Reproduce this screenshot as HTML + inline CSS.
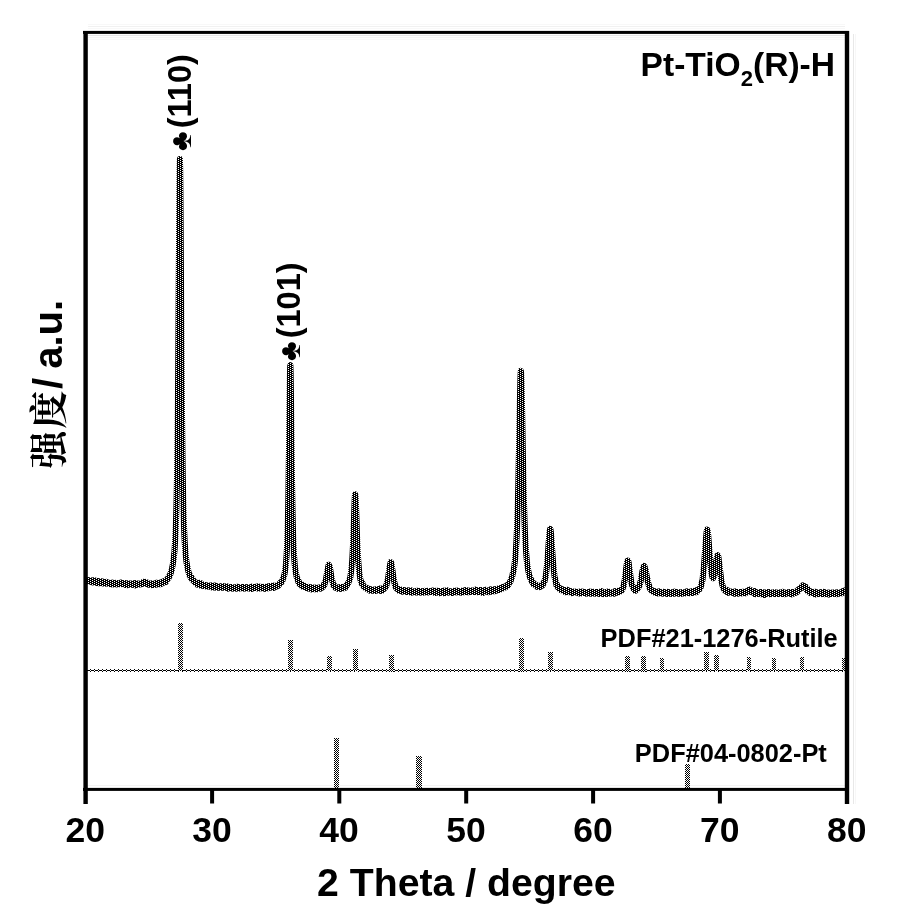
<!DOCTYPE html>
<html lang="zh">
<head>
<meta charset="utf-8">
<title>Pt-TiO2(R)-H XRD</title>
<style>
html,body{margin:0;padding:0;background:#fff;}
body{width:901px;height:913px;overflow:hidden;position:relative;}
svg{position:absolute;left:0;top:0;display:block;}
text{font-family:"Liberation Sans","Noto Sans CJK SC",sans-serif;font-weight:bold;fill:#000;}
.sym{font-family:"Liberation Sans","DejaVu Sans",sans-serif;font-weight:normal;}
.cjk{font-family:"Noto Serif CJK SC","Liberation Serif",serif;font-weight:700;}
</style>
</head>
<body>
<svg width="901" height="913" viewBox="0 0 901 913">
<defs>
<pattern id="d75" width="4" height="2" patternUnits="userSpaceOnUse"><rect width="4" height="2" fill="#000"/><rect x="0" y="0" width="1" height="1" fill="#fff"/><rect x="2" y="1" width="1" height="1" fill="#fff"/></pattern>
<pattern id="d50" width="2" height="2" patternUnits="userSpaceOnUse"><rect width="2" height="2" fill="#fff"/><rect x="0" y="0" width="1" height="1" fill="#000"/><rect x="1" y="1" width="1" height="1" fill="#000"/></pattern>
<pattern id="dia" width="4" height="3" patternUnits="userSpaceOnUse" x="0" y="669"><rect width="4" height="3" fill="#fff"/><rect x="2" y="0" width="1" height="1" fill="#000"/><rect x="0" y="1" width="2" height="1" fill="#000"/><rect x="3" y="1" width="1" height="1" fill="#000"/><rect x="2" y="2" width="1" height="1" fill="#000"/></pattern>
</defs>
<rect width="901" height="913" fill="#fff"/>

<g shape-rendering="crispEdges">
<rect x="88" y="24" width="757" height="1" fill="#f8f8f8"/>
<rect x="88" y="26" width="757" height="1" fill="#f1f1f1"/>
<rect x="88" y="28" width="757" height="1" fill="#f8f8f8"/>
<rect x="88" y="35" width="757" height="1" fill="#e6e6e6"/>
<rect x="88" y="37" width="757" height="1" fill="#f6f6f6"/>
<rect x="88" y="39" width="757" height="1" fill="#fafafa"/>
<rect x="88" y="785" width="757" height="1" fill="#f3f3f3"/>
<rect x="853" y="34" width="1" height="770" fill="#e8e8e8"/>
<rect x="855" y="34" width="1" height="770" fill="#f7f7f7"/>
<rect x="87.0" y="669.0" width="758.0" height="3" fill="url(#dia)"/>
<rect x="178.0" y="623.0" width="5.0" height="48.0" fill="url(#d50)"/>
<rect x="288.0" y="640.0" width="5.0" height="31.0" fill="url(#d50)"/>
<rect x="327.0" y="656.0" width="5.0" height="15.0" fill="url(#d50)"/>
<rect x="353.0" y="649.0" width="5.0" height="22.0" fill="url(#d50)"/>
<rect x="389.0" y="655.0" width="5.0" height="17.0" fill="url(#d50)"/>
<rect x="519.0" y="638.0" width="5.0" height="34.0" fill="url(#d50)"/>
<rect x="548.0" y="652.0" width="5.0" height="19.0" fill="url(#d50)"/>
<rect x="625.0" y="656.0" width="5.0" height="16.0" fill="url(#d50)"/>
<rect x="641.0" y="656.0" width="5.0" height="16.0" fill="url(#d50)"/>
<rect x="660.0" y="658.0" width="4.0" height="14.0" fill="url(#d50)"/>
<rect x="704.0" y="652.0" width="5.0" height="19.0" fill="url(#d50)"/>
<rect x="714.0" y="655.0" width="5.0" height="16.0" fill="url(#d50)"/>
<rect x="747.0" y="657.0" width="4.0" height="14.0" fill="url(#d50)"/>
<rect x="772.0" y="658.0" width="4.0" height="13.0" fill="url(#d50)"/>
<rect x="800.0" y="657.0" width="4.0" height="14.0" fill="url(#d50)"/>
<rect x="842.0" y="658.0" width="4.0" height="13.0" fill="url(#d50)"/>
<rect x="334.0" y="738.0" width="5.0" height="52.0" fill="url(#d50)"/>
<rect x="416.0" y="756.0" width="6.0" height="33.0" fill="url(#d50)"/>
<rect x="685.0" y="764.0" width="5.0" height="25.0" fill="url(#d50)"/>
</g>
<polyline points="86.90,581.77 87.15,580.60 87.40,580.90 87.65,581.14 87.90,580.50 88.15,580.97 88.40,580.99 88.65,580.04 88.90,581.61 89.15,581.40 89.40,580.75 89.65,581.03 89.90,581.43 90.15,581.03 90.40,581.06 90.65,580.42 90.90,581.56 91.15,581.35 91.40,581.46 91.65,580.48 91.90,582.27 92.15,581.47 92.40,581.19 92.65,582.56 92.90,581.44 93.15,580.68 93.40,581.29 93.65,580.27 93.90,582.15 94.15,581.36 94.40,581.20 94.65,582.24 94.90,580.75 95.15,581.99 95.40,580.57 95.65,581.38 95.90,581.10 96.15,582.61 96.40,582.81 96.65,581.67 96.90,582.34 97.15,581.80 97.40,582.24 97.65,581.53 97.90,581.03 98.15,581.00 98.40,582.24 98.65,583.30 98.90,582.23 99.15,581.82 99.40,583.20 99.65,582.29 99.90,582.24 100.15,582.35 100.40,582.16 100.65,582.09 100.90,581.49 101.15,582.59 101.40,582.29 101.65,583.03 101.90,582.19 102.15,581.36 102.40,582.39 102.65,583.41 102.90,582.28 103.15,582.02 103.40,581.88 103.65,581.99 103.90,582.43 104.15,581.97 104.40,583.48 104.65,582.51 104.90,582.76 105.15,583.52 105.40,583.58 105.65,582.66 105.90,582.98 106.15,583.23 106.40,582.74 106.65,581.89 106.90,583.26 107.15,583.42 107.40,583.18 107.65,582.46 107.90,582.89 108.15,582.70 108.40,582.89 108.65,583.80 108.90,583.95 109.15,583.50 109.40,583.46 109.65,583.55 109.90,583.20 110.15,583.18 110.40,582.86 110.65,583.22 110.90,584.51 111.15,583.76 111.40,583.10 111.65,583.04 111.90,582.83 112.15,583.53 112.40,583.55 112.65,582.55 112.90,583.63 113.15,583.06 113.40,584.18 113.65,583.49 113.90,584.37 114.15,583.17 114.40,583.28 114.65,583.62 114.90,584.05 115.15,583.79 115.40,582.81 115.65,583.60 115.90,583.53 116.15,583.29 116.40,583.18 116.65,584.52 116.90,583.35 117.15,583.11 117.40,583.94 117.65,583.67 117.90,583.57 118.15,584.06 118.40,583.91 118.65,583.85 118.90,584.20 119.15,583.83 119.40,583.35 119.65,583.50 119.90,583.42 120.15,583.84 120.40,583.14 120.65,582.73 120.90,583.81 121.15,583.03 121.40,582.70 121.65,584.00 121.90,583.41 122.15,584.09 122.40,583.53 122.65,583.22 122.90,583.16 123.15,583.58 123.40,583.72 123.65,583.43 123.90,583.74 124.15,583.06 124.40,583.93 124.65,582.94 124.90,583.83 125.15,584.34 125.40,584.56 125.65,584.92 125.90,583.12 126.15,584.41 126.40,584.67 126.65,584.56 126.90,583.51 127.15,584.26 127.40,585.07 127.65,583.23 127.90,584.33 128.15,584.69 128.40,583.70 128.65,584.42 128.90,583.51 129.15,583.66 129.40,583.67 129.65,584.24 129.90,584.09 130.15,584.68 130.40,583.64 130.65,584.09 130.90,584.70 131.15,584.49 131.40,583.46 131.65,584.57 131.90,583.94 132.15,584.43 132.40,584.39 132.65,584.90 132.90,584.30 133.15,583.22 133.40,583.50 133.65,584.66 133.90,584.12 134.15,584.89 134.40,584.42 134.65,583.87 134.90,584.88 135.15,583.84 135.40,583.16 135.65,585.43 135.90,583.25 136.15,584.65 136.40,584.82 136.65,584.38 136.90,583.38 137.15,584.85 137.40,583.50 137.65,583.55 137.90,584.09 138.15,584.71 138.40,584.43 138.65,584.69 138.90,583.98 139.15,584.10 139.40,583.55 139.65,583.95 139.90,584.40 140.15,583.86 140.40,584.21 140.65,583.56 140.90,583.46 141.15,583.70 141.40,583.46 141.65,583.75 141.90,583.39 142.15,584.07 142.40,582.87 142.65,582.71 142.90,582.12 143.15,582.53 143.40,582.73 143.65,581.86 143.90,582.13 144.15,582.47 144.40,582.01 144.65,581.83 144.90,582.67 145.15,582.31 145.40,582.59 145.65,583.14 145.90,583.29 146.15,582.67 146.40,582.74 146.65,583.33 146.90,583.26 147.15,582.46 147.40,584.28 147.65,583.73 147.90,584.22 148.15,583.29 148.40,584.69 148.65,583.75 148.90,584.07 149.15,583.42 149.40,584.12 149.65,584.12 149.90,584.17 150.15,584.53 150.40,584.34 150.65,584.85 150.90,584.07 151.15,583.79 151.40,584.32 151.65,584.67 151.90,585.00 152.15,584.76 152.40,583.37 152.65,584.52 152.90,585.09 153.15,584.33 153.40,584.00 153.65,584.44 153.90,583.99 154.15,584.58 154.40,584.22 154.65,584.95 154.90,584.46 155.15,583.78 155.40,584.47 155.65,584.62 155.90,583.80 156.15,583.85 156.40,582.82 156.65,584.50 156.90,583.67 157.15,582.83 157.40,582.98 157.65,583.77 157.90,584.25 158.15,583.76 158.40,584.02 158.65,583.14 158.90,582.97 159.15,584.10 159.40,583.84 159.65,583.51 159.90,584.14 160.15,582.91 160.40,583.12 160.65,583.80 160.90,584.15 161.15,583.11 161.40,583.90 161.65,582.63 161.90,583.02 162.15,582.67 162.40,581.84 162.65,582.69 162.90,582.92 163.15,582.26 163.40,582.18 163.65,582.79 163.90,581.32 164.15,581.06 164.40,581.35 164.65,580.92 164.90,582.04 165.15,581.35 165.40,580.59 165.65,580.53 165.90,582.04 166.15,580.13 166.40,579.84 166.65,580.12 166.90,580.04 167.15,579.58 167.40,578.76 167.65,578.36 167.90,578.87 168.15,578.24 168.40,577.15 168.65,578.06 168.90,577.48 169.15,576.59 169.40,576.13 169.65,575.85 169.90,574.92 170.15,574.08 170.40,574.17 170.65,572.78 170.90,572.81 171.15,571.31 171.40,571.00 171.65,570.07 171.90,569.77 172.15,567.66 172.40,566.36 172.65,565.32 172.90,563.74 173.15,562.31 173.40,560.83 173.65,558.93 173.90,556.92 174.15,553.95 174.40,551.74 174.65,548.45 174.90,544.57 175.15,540.18 175.40,535.75 175.65,530.26 175.90,523.46 176.15,516.17 176.40,507.08 176.65,496.22 176.90,483.54 177.15,468.22 177.40,449.70 177.65,428.09 177.90,402.43 178.15,372.76 178.40,339.11 178.65,301.84 178.90,262.29 179.15,223.47 179.40,190.40 179.65,166.99 179.90,158.93 180.15,167.47 180.40,190.34 180.65,223.65 180.90,262.22 181.15,301.99 181.40,339.16 181.65,373.03 181.90,402.74 182.15,428.16 182.40,449.85 182.65,468.09 182.90,483.17 183.15,496.27 183.40,507.27 183.65,516.31 183.90,524.03 184.15,530.43 184.40,536.00 184.65,540.84 184.90,544.72 185.15,548.39 185.40,551.32 185.65,554.55 185.90,556.85 186.15,559.17 186.40,561.44 186.65,563.12 186.90,564.40 187.15,566.13 187.40,566.72 187.65,568.56 187.90,569.56 188.15,569.92 188.40,571.96 188.65,572.03 188.90,573.36 189.15,573.65 189.40,574.91 189.65,575.67 189.90,575.35 190.15,575.58 190.40,576.69 190.65,577.60 190.90,577.50 191.15,577.80 191.40,578.69 191.65,577.55 191.90,578.86 192.15,578.85 192.40,579.94 192.65,579.74 192.90,579.83 193.15,580.45 193.40,580.15 193.65,581.09 193.90,580.98 194.15,581.34 194.40,581.37 194.65,582.37 194.90,582.04 195.15,582.53 195.40,582.67 195.65,582.18 195.90,583.02 196.15,583.06 196.40,583.18 196.65,582.94 196.90,583.06 197.15,583.80 197.40,584.63 197.65,583.19 197.90,584.01 198.15,583.64 198.40,584.34 198.65,584.25 198.90,584.67 199.15,582.75 199.40,583.98 199.65,583.86 199.90,584.40 200.15,584.15 200.40,584.27 200.65,585.04 200.90,585.75 201.15,583.32 201.40,584.71 201.65,585.11 201.90,585.01 202.15,584.88 202.40,584.40 202.65,584.67 202.90,585.61 203.15,585.85 203.40,585.38 203.65,584.93 203.90,585.48 204.15,585.35 204.40,585.81 204.65,585.63 204.90,585.28 205.15,585.75 205.40,585.06 205.65,586.17 205.90,586.41 206.15,585.17 206.40,586.07 206.65,585.35 206.90,586.49 207.15,586.44 207.40,585.86 207.65,586.55 207.90,585.82 208.15,585.73 208.40,585.80 208.65,586.07 208.90,586.00 209.15,586.28 209.40,585.90 209.65,586.67 209.90,586.84 210.15,586.04 210.40,585.56 210.65,586.75 210.90,587.00 211.15,586.32 211.40,585.74 211.65,586.60 211.90,587.31 212.15,585.48 212.40,586.79 212.65,586.38 212.90,586.10 213.15,586.86 213.40,585.90 213.65,586.79 213.90,587.37 214.15,586.77 214.40,586.21 214.65,585.74 214.90,586.03 215.15,585.74 215.40,587.64 215.65,586.65 215.90,586.23 216.15,586.11 216.40,586.25 216.65,586.67 216.90,586.17 217.15,587.80 217.40,586.49 217.65,586.49 217.90,587.10 218.15,587.74 218.40,587.69 218.65,586.71 218.90,587.13 219.15,587.09 219.40,587.31 219.65,587.18 219.90,586.53 220.15,586.37 220.40,587.17 220.65,586.44 220.90,587.85 221.15,587.14 221.40,586.57 221.65,586.97 221.90,586.88 222.15,587.10 222.40,587.70 222.65,586.40 222.90,586.18 223.15,587.40 223.40,587.13 223.65,587.33 223.90,587.50 224.15,587.16 224.40,587.71 224.65,586.80 224.90,587.33 225.15,586.85 225.40,586.70 225.65,587.67 225.90,587.65 226.15,586.28 226.40,586.74 226.65,587.53 226.90,587.97 227.15,587.03 227.40,587.30 227.65,586.63 227.90,588.80 228.15,587.69 228.40,587.93 228.65,587.81 228.90,587.97 229.15,587.80 229.40,587.29 229.65,587.90 229.90,587.54 230.15,588.22 230.40,587.11 230.65,587.22 230.90,587.90 231.15,588.24 231.40,587.63 231.65,587.16 231.90,587.50 232.15,587.30 232.40,588.63 232.65,588.08 232.90,588.29 233.15,587.77 233.40,587.31 233.65,588.27 233.90,588.54 234.15,587.96 234.40,587.63 234.65,588.25 234.90,587.46 235.15,588.09 235.40,587.28 235.65,587.14 235.90,587.99 236.15,587.87 236.40,588.74 236.65,587.54 236.90,587.71 237.15,587.08 237.40,586.68 237.65,586.74 237.90,587.98 238.15,587.08 238.40,588.35 238.65,588.52 238.90,587.58 239.15,588.66 239.40,587.87 239.65,588.37 239.90,587.63 240.15,588.29 240.40,587.24 240.65,588.11 240.90,587.52 241.15,587.70 241.40,588.13 241.65,587.88 241.90,587.75 242.15,588.19 242.40,588.24 242.65,587.03 242.90,588.11 243.15,588.17 243.40,587.39 243.65,588.02 243.90,587.08 244.15,588.61 244.40,587.69 244.65,587.78 244.90,588.48 245.15,587.75 245.40,588.16 245.65,587.26 245.90,587.52 246.15,587.07 246.40,587.72 246.65,588.41 246.90,587.97 247.15,588.33 247.40,587.28 247.65,587.36 247.90,587.59 248.15,588.17 248.40,588.05 248.65,587.85 248.90,588.20 249.15,587.78 249.40,587.85 249.65,588.58 249.90,587.54 250.15,587.96 250.40,588.75 250.65,587.92 250.90,588.25 251.15,587.53 251.40,588.94 251.65,586.63 251.90,587.24 252.15,587.29 252.40,588.76 252.65,588.06 252.90,587.72 253.15,587.16 253.40,588.07 253.65,587.93 253.90,587.48 254.15,587.04 254.40,587.26 254.65,587.98 254.90,588.03 255.15,587.90 255.40,587.77 255.65,586.88 255.90,587.88 256.15,587.28 256.40,587.87 256.65,588.10 256.90,587.47 257.15,587.28 257.40,588.38 257.65,588.03 257.90,587.48 258.15,586.18 258.40,587.80 258.65,588.16 258.90,588.43 259.15,587.44 259.40,587.45 259.65,587.56 259.90,588.26 260.15,587.15 260.40,587.72 260.65,587.27 260.90,587.92 261.15,586.92 261.40,587.97 261.65,587.48 261.90,587.62 262.15,588.03 262.40,588.35 262.65,586.79 262.90,588.26 263.15,588.01 263.40,587.53 263.65,588.45 263.90,587.78 264.15,588.37 264.40,587.33 264.65,587.17 264.90,588.29 265.15,588.79 265.40,587.95 265.65,588.07 265.90,587.31 266.15,586.84 266.40,587.42 266.65,588.34 266.90,586.50 267.15,587.22 267.40,586.43 267.65,587.51 267.90,587.91 268.15,586.74 268.40,587.18 268.65,588.10 268.90,587.31 269.15,586.67 269.40,586.60 269.65,586.20 269.90,587.69 270.15,586.84 270.40,587.78 270.65,587.66 270.90,586.80 271.15,586.84 271.40,587.52 271.65,587.14 271.90,587.17 272.15,586.11 272.40,587.43 272.65,586.44 272.90,585.65 273.15,586.49 273.40,587.00 273.65,587.84 273.90,586.47 274.15,585.91 274.40,587.68 274.65,586.58 274.90,586.29 275.15,585.79 275.40,585.76 275.65,586.99 275.90,585.99 276.15,585.76 276.40,585.69 276.65,586.68 276.90,585.45 277.15,585.98 277.40,585.68 277.65,585.54 277.90,584.84 278.15,585.49 278.40,585.83 278.65,584.82 278.90,584.22 279.15,583.85 279.40,584.41 279.65,583.98 279.90,583.84 280.15,583.67 280.40,582.68 280.65,583.52 280.90,582.96 281.15,582.49 281.40,582.29 281.65,582.25 281.90,581.42 282.15,580.56 282.40,581.01 282.65,579.74 282.90,579.03 283.15,578.03 283.40,578.01 283.65,576.78 283.90,576.14 284.15,575.57 284.40,574.31 284.65,573.46 284.90,571.81 285.15,570.00 285.40,568.24 285.65,566.14 285.90,564.09 286.15,561.13 286.40,557.76 286.65,554.09 286.90,549.31 287.15,543.63 287.40,536.72 287.65,528.84 287.90,518.98 288.15,507.16 288.40,493.07 288.65,476.57 288.90,457.78 289.15,436.90 289.40,414.87 289.65,393.76 289.90,376.38 290.15,366.15 290.40,365.16 290.65,373.63 290.90,390.04 291.15,410.66 291.40,432.67 291.65,453.81 291.90,473.14 292.15,489.96 292.40,504.73 292.65,516.56 292.90,527.02 293.15,535.51 293.40,542.70 293.65,548.41 293.90,553.10 294.15,557.01 294.40,560.53 294.65,563.62 294.90,566.07 295.15,568.12 295.40,569.80 295.65,571.57 295.90,573.45 296.15,573.91 296.40,575.47 296.65,577.13 296.90,577.59 297.15,577.97 297.40,579.19 297.65,579.23 297.90,580.18 298.15,581.44 298.40,582.11 298.65,580.89 298.90,582.44 299.15,583.44 299.40,582.60 299.65,583.32 299.90,584.24 300.15,583.55 300.40,584.28 300.65,584.28 300.90,583.58 301.15,584.93 301.40,584.87 301.65,585.62 301.90,586.39 302.15,585.84 302.40,585.46 302.65,586.03 302.90,586.04 303.15,586.60 303.40,585.45 303.65,585.71 303.90,585.36 304.15,586.85 304.40,586.62 304.65,586.39 304.90,586.44 305.15,586.60 305.40,586.50 305.65,586.89 305.90,586.88 306.15,587.94 306.40,587.44 306.65,586.90 306.90,587.09 307.15,588.09 307.40,587.75 307.65,587.72 307.90,588.00 308.15,588.51 308.40,587.06 308.65,587.35 308.90,586.86 309.15,588.09 309.40,587.67 309.65,587.54 309.90,587.53 310.15,588.34 310.40,587.93 310.65,587.75 310.90,588.73 311.15,587.53 311.40,587.43 311.65,589.53 311.90,587.96 312.15,587.89 312.40,587.81 312.65,588.14 312.90,588.65 313.15,588.65 313.40,588.56 313.65,588.13 313.90,587.49 314.15,588.45 314.40,589.12 314.65,588.88 314.90,588.22 315.15,588.75 315.40,588.11 315.65,588.29 315.90,587.65 316.15,588.14 316.40,588.38 316.65,588.21 316.90,588.70 317.15,589.28 317.40,588.97 317.65,588.08 317.90,587.83 318.15,587.85 318.40,587.65 318.65,588.16 318.90,588.33 319.15,588.17 319.40,588.13 319.65,588.07 319.90,587.86 320.15,587.48 320.40,588.72 320.65,588.29 320.90,587.18 321.15,587.09 321.40,587.16 321.65,587.37 321.90,587.88 322.15,587.61 322.40,587.46 322.65,587.28 322.90,587.06 323.15,586.62 323.40,586.17 323.65,585.54 323.90,584.33 324.15,584.68 324.40,585.09 324.65,583.35 324.90,582.62 325.15,582.60 325.40,581.28 325.65,580.04 325.90,579.83 326.15,578.21 326.40,576.95 326.65,575.02 326.90,573.94 327.15,572.37 327.40,570.96 327.65,569.56 327.90,568.15 328.15,566.66 328.40,565.86 328.65,564.76 328.90,565.05 329.15,565.27 329.40,565.57 329.65,566.40 329.90,567.81 330.15,568.84 330.40,570.84 330.65,572.37 330.90,573.45 331.15,575.30 331.40,577.12 331.65,578.44 331.90,579.64 332.15,580.24 332.40,581.15 332.65,582.01 332.90,583.26 333.15,584.80 333.40,584.97 333.65,585.59 333.90,585.94 334.15,584.87 334.40,585.92 334.65,586.09 334.90,587.21 335.15,587.66 335.40,586.64 335.65,587.17 335.90,587.58 336.15,587.16 336.40,587.20 336.65,587.26 336.90,588.16 337.15,587.30 337.40,588.43 337.65,587.94 337.90,588.33 338.15,588.79 338.40,587.66 338.65,587.61 338.90,588.29 339.15,587.54 339.40,587.70 339.65,588.03 339.90,588.18 340.15,587.44 340.40,587.88 340.65,588.37 340.90,588.75 341.15,586.99 341.40,588.67 341.65,588.41 341.90,587.34 342.15,587.09 342.40,588.02 342.65,587.53 342.90,587.75 343.15,588.06 343.40,587.34 343.65,587.53 343.90,587.59 344.15,587.70 344.40,588.03 344.65,587.87 344.90,587.00 345.15,586.61 345.40,587.76 345.65,586.72 345.90,586.42 346.15,585.45 346.40,586.16 346.65,585.15 346.90,585.04 347.15,584.32 347.40,584.40 347.65,584.33 347.90,583.20 348.15,583.07 348.40,582.98 348.65,581.91 348.90,581.34 349.15,580.88 349.40,579.91 349.65,579.95 349.90,578.34 350.15,578.00 350.40,576.83 350.65,574.61 350.90,573.45 351.15,571.40 351.40,569.03 351.65,566.77 351.90,563.88 352.15,560.70 352.40,556.81 352.65,551.99 352.90,546.96 353.15,541.32 353.40,534.99 353.65,527.50 353.90,520.66 354.15,513.04 354.40,506.29 354.65,500.10 354.90,495.89 355.15,494.20 355.40,495.15 355.65,498.29 355.90,503.27 356.15,510.35 356.40,517.37 356.65,524.91 356.90,532.07 357.15,538.65 357.40,544.79 357.65,550.23 357.90,555.03 358.15,559.27 358.40,562.81 358.65,565.62 358.90,568.67 359.15,571.37 359.40,573.39 359.65,574.85 359.90,576.55 360.15,577.98 360.40,579.33 360.65,580.50 360.90,580.52 361.15,581.33 361.40,582.83 361.65,583.51 361.90,584.08 362.15,582.77 362.40,584.24 362.65,583.20 362.90,585.51 363.15,585.54 363.40,585.86 363.65,586.07 363.90,587.07 364.15,586.52 364.40,587.43 364.65,587.41 364.90,587.52 365.15,587.76 365.40,587.76 365.65,587.30 365.90,588.39 366.15,588.54 366.40,588.23 366.65,588.81 366.90,589.02 367.15,588.00 367.40,588.70 367.65,588.64 367.90,588.49 368.15,589.23 368.40,588.70 368.65,588.99 368.90,589.43 369.15,589.55 369.40,589.61 369.65,590.69 369.90,589.29 370.15,589.75 370.40,589.03 370.65,589.98 370.90,590.39 371.15,590.47 371.40,589.53 371.65,589.76 371.90,590.62 372.15,589.93 372.40,590.53 372.65,589.53 372.90,590.83 373.15,590.67 373.40,590.39 373.65,589.74 373.90,590.11 374.15,590.29 374.40,590.37 374.65,590.18 374.90,590.13 375.15,590.36 375.40,591.02 375.65,589.19 375.90,589.54 376.15,589.45 376.40,589.91 376.65,589.34 376.90,590.57 377.15,590.32 377.40,590.13 377.65,589.89 377.90,590.33 378.15,590.33 378.40,590.39 378.65,589.81 378.90,590.53 379.15,589.37 379.40,590.80 379.65,588.45 379.90,589.75 380.15,589.39 380.40,590.42 380.65,589.16 380.90,590.88 381.15,589.03 381.40,590.87 381.65,589.97 381.90,589.68 382.15,589.81 382.40,590.66 382.65,589.88 382.90,588.12 383.15,589.81 383.40,589.18 383.65,588.06 383.90,589.14 384.15,587.93 384.40,588.44 384.65,588.22 384.90,587.48 385.15,587.82 385.40,586.60 385.65,586.77 385.90,585.91 386.15,585.51 386.40,585.85 386.65,584.22 386.90,582.80 387.15,582.27 387.40,580.88 387.65,580.01 387.90,578.71 388.15,577.19 388.40,575.59 388.65,573.66 388.90,572.23 389.15,570.58 389.40,568.26 389.65,566.69 389.90,565.15 390.15,564.13 390.40,563.12 390.65,562.18 390.90,562.32 391.15,562.40 391.40,563.40 391.65,564.89 391.90,566.60 392.15,568.42 392.40,569.86 392.65,571.35 392.90,573.74 393.15,575.27 393.40,577.13 393.65,578.55 393.90,580.17 394.15,581.42 394.40,582.65 394.65,583.08 394.90,584.66 395.15,584.74 395.40,585.72 395.65,587.20 395.90,586.99 396.15,586.69 396.40,588.43 396.65,588.54 396.90,588.91 397.15,588.69 397.40,589.00 397.65,588.91 397.90,588.84 398.15,590.18 398.40,589.33 398.65,589.40 398.90,589.54 399.15,590.88 399.40,590.46 399.65,589.88 399.90,590.14 400.15,590.52 400.40,590.79 400.65,589.52 400.90,590.94 401.15,590.40 401.40,590.20 401.65,590.41 401.90,591.10 402.15,591.67 402.40,590.84 402.65,591.11 402.90,590.40 403.15,591.15 403.40,591.37 403.65,590.14 403.90,590.70 404.15,591.45 404.40,590.08 404.65,590.87 404.90,591.43 405.15,590.20 405.40,590.93 405.65,591.20 405.90,591.68 406.15,590.51 406.40,591.84 406.65,591.42 406.90,591.93 407.15,591.93 407.40,591.49 407.65,591.59 407.90,590.38 408.15,590.61 408.40,590.81 408.65,591.19 408.90,591.91 409.15,590.43 409.40,591.24 409.65,590.71 409.90,590.59 410.15,592.27 410.40,591.52 410.65,592.38 410.90,592.14 411.15,590.99 411.40,590.49 411.65,592.66 411.90,591.30 412.15,590.90 412.40,591.92 412.65,591.63 412.90,591.19 413.15,591.38 413.40,591.66 413.65,591.62 413.90,592.01 414.15,591.40 414.40,591.42 414.65,591.94 414.90,591.79 415.15,592.23 415.40,591.49 415.65,591.58 415.90,591.00 416.15,592.48 416.40,590.88 416.65,591.77 416.90,591.17 417.15,591.86 417.40,592.09 417.65,590.78 417.90,591.57 418.15,590.72 418.40,592.47 418.65,591.45 418.90,590.83 419.15,591.32 419.40,592.44 419.65,592.54 419.90,592.42 420.15,591.29 420.40,591.64 420.65,592.63 420.90,591.33 421.15,591.55 421.40,591.21 421.65,591.09 421.90,592.40 422.15,592.09 422.40,591.99 422.65,592.06 422.90,592.31 423.15,592.58 423.40,591.74 423.65,591.56 423.90,591.18 424.15,592.35 424.40,591.46 424.65,590.92 424.90,591.60 425.15,591.77 425.40,592.21 425.65,592.31 425.90,591.35 426.15,591.31 426.40,591.57 426.65,591.09 426.90,591.70 427.15,592.01 427.40,591.78 427.65,590.86 427.90,591.10 428.15,592.47 428.40,591.20 428.65,592.17 428.90,592.11 429.15,591.58 429.40,591.21 429.65,591.88 429.90,591.27 430.15,591.66 430.40,591.82 430.65,591.36 430.90,591.63 431.15,591.59 431.40,591.07 431.65,591.65 431.90,591.40 432.15,590.75 432.40,591.57 432.65,591.60 432.90,591.42 433.15,590.61 433.40,592.19 433.65,592.13 433.90,592.11 434.15,591.93 434.40,591.06 434.65,591.82 434.90,591.24 435.15,592.96 435.40,591.46 435.65,592.12 435.90,590.89 436.15,591.10 436.40,591.45 436.65,592.14 436.90,592.05 437.15,591.91 437.40,590.72 437.65,592.37 437.90,591.23 438.15,592.64 438.40,592.77 438.65,592.20 438.90,592.29 439.15,591.04 439.40,593.17 439.65,591.86 439.90,592.29 440.15,591.26 440.40,591.70 440.65,591.07 440.90,591.60 441.15,591.74 441.40,591.87 441.65,592.50 441.90,591.99 442.15,591.86 442.40,591.74 442.65,592.83 442.90,591.40 443.15,592.38 443.40,590.63 443.65,591.23 443.90,591.94 444.15,591.62 444.40,593.37 444.65,593.14 444.90,590.87 445.15,591.11 445.40,591.62 445.65,592.66 445.90,592.33 446.15,591.88 446.40,590.91 446.65,591.23 446.90,590.21 447.15,590.84 447.40,591.93 447.65,592.13 447.90,590.97 448.15,591.75 448.40,592.58 448.65,591.77 448.90,591.51 449.15,592.02 449.40,591.97 449.65,591.72 449.90,591.38 450.15,591.44 450.40,591.72 450.65,591.36 450.90,592.40 451.15,592.15 451.40,592.26 451.65,592.78 451.90,592.53 452.15,592.44 452.40,591.85 452.65,591.54 452.90,592.92 453.15,591.27 453.40,591.30 453.65,591.16 453.90,591.75 454.15,591.86 454.40,592.20 454.65,591.50 454.90,590.66 455.15,591.80 455.40,592.16 455.65,591.63 455.90,591.54 456.15,591.92 456.40,592.40 456.65,591.57 456.90,590.82 457.15,591.29 457.40,591.50 457.65,590.60 457.90,592.01 458.15,591.16 458.40,591.86 458.65,591.69 458.90,591.40 459.15,592.47 459.40,591.26 459.65,591.19 459.90,591.72 460.15,592.02 460.40,591.55 460.65,591.01 460.90,591.93 461.15,591.88 461.40,592.68 461.65,591.41 461.90,591.65 462.15,591.21 462.40,590.70 462.65,591.56 462.90,591.98 463.15,590.95 463.40,591.13 463.65,590.85 463.90,592.24 464.15,591.15 464.40,591.81 464.65,591.01 464.90,591.52 465.15,591.13 465.40,590.18 465.65,591.51 465.90,591.75 466.15,590.31 466.40,591.36 466.65,591.21 466.90,590.85 467.15,591.30 467.40,590.37 467.65,591.57 467.90,592.08 468.15,590.72 468.40,591.38 468.65,592.19 468.90,591.47 469.15,591.11 469.40,590.89 469.65,591.49 469.90,591.31 470.15,591.72 470.40,590.53 470.65,591.96 470.90,591.14 471.15,591.71 471.40,590.95 471.65,590.63 471.90,591.02 472.15,590.80 472.40,591.11 472.65,591.67 472.90,591.90 473.15,591.41 473.40,591.00 473.65,591.04 473.90,591.61 474.15,591.90 474.40,591.09 474.65,591.19 474.90,590.84 475.15,591.36 475.40,591.76 475.65,589.63 475.90,591.36 476.15,590.91 476.40,589.93 476.65,591.37 476.90,591.14 477.15,591.38 477.40,590.42 477.65,592.33 477.90,591.21 478.15,590.95 478.40,591.97 478.65,591.48 478.90,591.57 479.15,591.74 479.40,589.96 479.65,592.00 479.90,590.88 480.15,591.22 480.40,591.56 480.65,590.66 480.90,591.22 481.15,591.45 481.40,591.01 481.65,591.29 481.90,590.14 482.15,590.35 482.40,590.37 482.65,591.19 482.90,593.02 483.15,591.12 483.40,590.88 483.65,590.92 483.90,591.48 484.15,591.32 484.40,590.30 484.65,591.47 484.90,590.89 485.15,591.34 485.40,589.79 485.65,590.02 485.90,591.18 486.15,589.86 486.40,591.04 486.65,591.00 486.90,590.88 487.15,590.98 487.40,590.92 487.65,591.00 487.90,590.53 488.15,590.72 488.40,592.30 488.65,591.32 488.90,591.01 489.15,590.88 489.40,590.25 489.65,590.75 489.90,590.48 490.15,591.10 490.40,590.08 490.65,589.27 490.90,590.23 491.15,590.89 491.40,591.81 491.65,591.02 491.90,589.91 492.15,590.30 492.40,589.88 492.65,590.27 492.90,589.86 493.15,589.43 493.40,590.53 493.65,590.36 493.90,590.14 494.15,590.38 494.40,591.26 494.65,590.20 494.90,589.90 495.15,590.53 495.40,589.15 495.65,590.40 495.90,589.54 496.15,589.48 496.40,589.94 496.65,590.73 496.90,589.40 497.15,590.25 497.40,589.90 497.65,588.92 497.90,590.09 498.15,589.12 498.40,588.73 498.65,589.03 498.90,589.01 499.15,589.65 499.40,588.89 499.65,590.00 499.90,589.27 500.15,588.71 500.40,588.58 500.65,589.06 500.90,587.81 501.15,587.66 501.40,588.25 501.65,588.95 501.90,588.63 502.15,588.46 502.40,588.24 502.65,587.13 502.90,587.98 503.15,587.14 503.40,588.36 503.65,587.81 503.90,587.65 504.15,587.77 504.40,587.59 504.65,587.41 504.90,587.32 505.15,586.70 505.40,586.17 505.65,586.84 505.90,587.21 506.15,586.81 506.40,586.01 506.65,586.21 506.90,585.49 507.15,585.66 507.40,584.95 507.65,585.05 507.90,585.67 508.15,584.81 508.40,584.85 508.65,583.48 508.90,583.19 509.15,583.13 509.40,583.03 509.65,582.29 509.90,582.41 510.15,581.27 510.40,581.61 510.65,580.92 510.90,579.49 511.15,579.61 511.40,578.65 511.65,578.46 511.90,577.12 512.15,576.65 512.40,575.88 512.65,573.76 512.90,573.09 513.15,572.69 513.40,571.41 513.65,570.45 513.90,568.76 514.15,566.76 514.40,565.43 514.65,563.22 514.90,561.17 515.15,558.69 515.40,556.11 515.65,552.79 515.90,549.38 516.15,545.33 516.40,541.54 516.65,536.13 516.90,530.53 517.15,524.16 517.40,517.11 517.65,509.14 517.90,500.36 518.15,490.37 518.40,479.46 518.65,467.39 518.90,454.61 519.15,441.22 519.40,427.06 519.65,413.20 519.90,399.70 520.15,388.44 520.40,379.23 520.65,373.47 520.90,370.87 521.15,373.29 521.40,379.17 521.65,388.36 521.90,399.87 522.15,413.15 522.40,427.12 522.65,441.00 522.90,454.53 523.15,467.38 523.40,479.29 523.65,490.28 523.90,500.08 524.15,508.83 524.40,517.28 524.65,523.97 524.90,530.52 525.15,535.96 525.40,541.07 525.65,545.36 525.90,549.38 526.15,552.71 526.40,555.69 526.65,558.66 526.90,561.30 527.15,563.27 527.40,565.16 527.65,566.59 527.90,568.43 528.15,570.02 528.40,570.98 528.65,572.67 528.90,573.44 529.15,574.57 529.40,575.18 529.65,576.01 529.90,577.06 530.15,577.84 530.40,578.49 530.65,578.56 530.90,579.24 531.15,580.06 531.40,579.78 531.65,581.47 531.90,581.59 532.15,581.87 532.40,581.91 532.65,582.94 532.90,582.78 533.15,584.06 533.40,583.67 533.65,583.07 533.90,584.34 534.15,583.99 534.40,584.21 534.65,584.54 534.90,584.78 535.15,585.13 535.40,585.53 535.65,585.54 535.90,585.11 536.15,584.93 536.40,585.31 536.65,585.97 536.90,586.31 537.15,586.85 537.40,585.40 537.65,586.15 537.90,586.06 538.15,586.01 538.40,586.31 538.65,586.15 538.90,586.15 539.15,585.97 539.40,586.46 539.65,586.76 539.90,587.01 540.15,585.92 540.40,585.61 540.65,585.92 540.90,585.56 541.15,586.35 541.40,585.34 541.65,585.63 541.90,584.79 542.15,585.07 542.40,585.11 542.65,585.49 542.90,584.16 543.15,584.32 543.40,582.81 543.65,582.77 543.90,582.44 544.15,581.99 544.40,581.71 544.65,580.99 544.90,579.15 545.15,578.97 545.40,577.11 545.65,576.84 545.90,574.69 546.15,572.85 546.40,570.74 546.65,568.55 546.90,566.08 547.15,563.20 547.40,560.55 547.65,557.26 547.90,553.93 548.15,550.28 548.40,546.74 548.65,542.90 548.90,539.98 549.15,536.11 549.40,533.30 549.65,531.25 549.90,529.79 550.15,528.89 550.40,529.08 550.65,530.32 550.90,532.40 551.15,535.11 551.40,538.38 551.65,542.05 551.90,545.72 552.15,549.20 552.40,553.00 552.65,556.57 552.90,560.03 553.15,562.85 553.40,565.57 553.65,568.61 553.90,571.26 554.15,572.77 554.40,575.57 554.65,577.24 554.90,578.01 555.15,578.82 555.40,580.39 555.65,581.53 555.90,582.83 556.15,582.64 556.40,585.21 556.65,585.80 556.90,584.91 557.15,584.84 557.40,586.08 557.65,586.75 557.90,587.55 558.15,587.56 558.40,587.39 558.65,586.76 558.90,588.24 559.15,588.63 559.40,588.25 559.65,588.74 559.90,588.88 560.15,588.81 560.40,588.50 560.65,589.41 560.90,588.64 561.15,590.23 561.40,589.15 561.65,589.99 561.90,589.46 562.15,590.14 562.40,589.93 562.65,590.41 562.90,589.80 563.15,589.44 563.40,590.23 563.65,590.27 563.90,589.73 564.15,590.22 564.40,589.77 564.65,590.78 564.90,590.58 565.15,590.84 565.40,592.28 565.65,591.03 565.90,591.20 566.15,591.38 566.40,591.02 566.65,590.82 566.90,591.65 567.15,591.78 567.40,589.69 567.65,591.21 567.90,591.16 568.15,591.07 568.40,592.08 568.65,591.16 568.90,591.94 569.15,591.22 569.40,591.32 569.65,591.97 569.90,591.20 570.15,591.54 570.40,591.06 570.65,591.20 570.90,592.10 571.15,592.05 571.40,591.14 571.65,591.14 571.90,593.19 572.15,591.48 572.40,591.38 572.65,592.15 572.90,591.47 573.15,591.71 573.40,592.42 573.65,592.50 573.90,591.86 574.15,592.72 574.40,591.93 574.65,591.90 574.90,592.04 575.15,591.89 575.40,592.37 575.65,592.25 575.90,591.69 576.15,592.22 576.40,591.85 576.65,591.84 576.90,592.09 577.15,592.74 577.40,592.35 577.65,592.91 577.90,593.08 578.15,592.22 578.40,591.92 578.65,591.84 578.90,592.43 579.15,592.77 579.40,593.17 579.65,591.60 579.90,592.83 580.15,592.93 580.40,593.69 580.65,592.47 580.90,592.36 581.15,591.55 581.40,591.97 581.65,591.80 581.90,591.86 582.15,591.93 582.40,591.60 582.65,592.40 582.90,592.67 583.15,592.89 583.40,592.42 583.65,593.07 583.90,593.08 584.15,591.67 584.40,592.36 584.65,591.84 584.90,591.99 585.15,592.64 585.40,592.48 585.65,593.36 585.90,593.69 586.15,592.80 586.40,592.48 586.65,592.51 586.90,592.59 587.15,592.92 587.40,592.21 587.65,592.94 587.90,592.49 588.15,593.22 588.40,593.39 588.65,593.60 588.90,592.57 589.15,591.92 589.40,591.74 589.65,592.51 589.90,591.90 590.15,591.78 590.40,592.50 590.65,592.16 590.90,593.09 591.15,593.78 591.40,592.59 591.65,592.90 591.90,591.86 592.15,592.84 592.40,592.36 592.65,592.14 592.90,591.73 593.15,593.64 593.40,591.87 593.65,592.10 593.90,592.78 594.15,592.94 594.40,592.94 594.65,592.85 594.90,592.30 595.15,593.22 595.40,592.91 595.65,592.01 595.90,593.69 596.15,592.63 596.40,593.34 596.65,592.02 596.90,592.17 597.15,592.51 597.40,592.45 597.65,593.40 597.90,591.95 598.15,592.93 598.40,592.29 598.65,593.13 598.90,592.97 599.15,592.55 599.40,594.08 599.65,592.84 599.90,593.47 600.15,592.13 600.40,592.80 600.65,592.91 600.90,592.94 601.15,592.67 601.40,592.40 601.65,591.15 601.90,592.54 602.15,592.35 602.40,592.71 602.65,593.32 602.90,594.07 603.15,593.14 603.40,593.41 603.65,593.19 603.90,593.24 604.15,593.16 604.40,592.69 604.65,592.65 604.90,593.01 605.15,593.82 605.40,593.25 605.65,593.71 605.90,592.10 606.15,592.96 606.40,593.03 606.65,593.09 606.90,592.04 607.15,591.78 607.40,591.62 607.65,592.56 607.90,594.06 608.15,592.89 608.40,592.09 608.65,592.94 608.90,592.58 609.15,592.83 609.40,592.48 609.65,592.01 609.90,592.42 610.15,593.09 610.40,592.86 610.65,593.35 610.90,592.08 611.15,593.24 611.40,592.68 611.65,592.74 611.90,593.31 612.15,592.54 612.40,592.74 612.65,592.93 612.90,592.92 613.15,593.00 613.40,593.24 613.65,592.80 613.90,592.25 614.15,593.81 614.40,592.44 614.65,592.64 614.90,592.00 615.15,591.19 615.40,591.93 615.65,592.36 615.90,592.58 616.15,592.27 616.40,592.66 616.65,592.72 616.90,592.68 617.15,592.11 617.40,592.10 617.65,591.89 617.90,591.49 618.15,592.67 618.40,591.17 618.65,591.74 618.90,591.83 619.15,590.48 619.40,591.94 619.65,591.26 619.90,591.47 620.15,591.05 620.40,590.28 620.65,591.05 620.90,590.83 621.15,591.10 621.40,590.59 621.65,589.19 621.90,590.31 622.15,589.78 622.40,589.31 622.65,588.64 622.90,587.44 623.15,587.34 623.40,586.08 623.65,586.65 623.90,584.12 624.15,582.52 624.40,581.50 624.65,580.73 624.90,578.28 625.15,575.82 625.40,575.37 625.65,572.99 625.90,570.72 626.15,569.06 626.40,566.65 626.65,564.77 626.90,563.62 627.15,561.96 627.40,561.19 627.65,560.55 627.90,560.64 628.15,560.92 628.40,561.35 628.65,563.17 628.90,564.46 629.15,566.58 629.40,568.30 629.65,570.68 629.90,572.14 630.15,573.48 630.40,575.93 630.65,578.01 630.90,579.31 631.15,580.74 631.40,582.93 631.65,583.43 631.90,585.05 632.15,585.57 632.40,585.62 632.65,586.54 632.90,587.43 633.15,588.22 633.40,588.07 633.65,588.09 633.90,588.56 634.15,589.03 634.40,589.01 634.65,589.30 634.90,590.65 635.15,589.90 635.40,589.36 635.65,589.79 635.90,590.58 636.15,590.05 636.40,589.59 636.65,588.84 636.90,588.52 637.15,589.04 637.40,588.95 637.65,587.92 637.90,587.76 638.15,588.05 638.40,586.56 638.65,586.33 638.90,586.60 639.15,586.27 639.40,585.46 639.65,585.00 639.90,584.39 640.15,583.15 640.40,581.63 640.65,581.53 640.90,580.17 641.15,578.63 641.40,576.68 641.65,575.81 641.90,573.61 642.15,572.88 642.40,570.89 642.65,570.29 642.90,569.54 643.15,568.22 643.40,567.77 643.65,566.67 643.90,566.27 644.15,565.99 644.40,566.29 644.65,566.51 644.90,567.43 645.15,568.37 645.40,569.04 645.65,569.75 645.90,571.51 646.15,573.10 646.40,574.24 646.65,575.49 646.90,577.09 647.15,578.58 647.40,578.30 647.65,581.19 647.90,582.05 648.15,583.00 648.40,583.54 648.65,584.82 648.90,585.84 649.15,585.61 649.40,587.37 649.65,587.66 649.90,588.91 650.15,589.01 650.40,589.01 650.65,589.51 650.90,590.15 651.15,590.19 651.40,590.66 651.65,590.22 651.90,590.13 652.15,590.66 652.40,590.36 652.65,590.84 652.90,591.56 653.15,590.60 653.40,590.91 653.65,592.05 653.90,591.45 654.15,591.80 654.40,591.20 654.65,591.37 654.90,591.82 655.15,592.92 655.40,592.32 655.65,591.22 655.90,592.41 656.15,592.71 656.40,592.62 656.65,591.62 656.90,592.28 657.15,593.50 657.40,591.87 657.65,592.58 657.90,592.02 658.15,591.76 658.40,592.24 658.65,593.06 658.90,593.16 659.15,592.06 659.40,592.30 659.65,592.09 659.90,591.46 660.15,592.95 660.40,593.49 660.65,593.47 660.90,592.41 661.15,593.40 661.40,593.29 661.65,592.52 661.90,592.71 662.15,592.53 662.40,592.87 662.65,593.75 662.90,592.25 663.15,592.11 663.40,593.26 663.65,592.82 663.90,591.76 664.15,592.25 664.40,592.36 664.65,592.49 664.90,593.01 665.15,593.38 665.40,592.75 665.65,592.93 665.90,592.45 666.15,593.42 666.40,593.61 666.65,592.73 666.90,592.47 667.15,594.02 667.40,593.40 667.65,592.40 667.90,591.96 668.15,592.74 668.40,593.56 668.65,592.60 668.90,592.77 669.15,592.64 669.40,593.27 669.65,593.68 669.90,592.22 670.15,592.76 670.40,592.81 670.65,592.58 670.90,592.27 671.15,593.38 671.40,593.01 671.65,593.33 671.90,593.76 672.15,592.73 672.40,593.23 672.65,592.71 672.90,592.88 673.15,593.11 673.40,592.84 673.65,592.10 673.90,593.76 674.15,593.01 674.40,592.30 674.65,591.71 674.90,592.91 675.15,593.28 675.40,593.48 675.65,593.54 675.90,592.71 676.15,593.27 676.40,592.06 676.65,592.99 676.90,593.41 677.15,592.57 677.40,592.81 677.65,592.96 677.90,592.97 678.15,593.71 678.40,592.29 678.65,593.62 678.90,592.19 679.15,592.51 679.40,592.44 679.65,592.82 679.90,592.59 680.15,593.12 680.40,592.85 680.65,594.05 680.90,593.05 681.15,592.69 681.40,593.03 681.65,593.14 681.90,592.70 682.15,592.19 682.40,592.35 682.65,592.88 682.90,593.23 683.15,593.03 683.40,592.71 683.65,593.06 683.90,592.47 684.15,592.87 684.40,593.50 684.65,593.32 684.90,593.44 685.15,592.48 685.40,592.78 685.65,592.10 685.90,593.14 686.15,592.39 686.40,591.89 686.65,592.32 686.90,592.72 687.15,591.35 687.40,591.77 687.65,593.07 687.90,592.56 688.15,592.47 688.40,591.59 688.65,593.31 688.90,592.99 689.15,592.79 689.40,591.77 689.65,592.67 689.90,592.95 690.15,592.13 690.40,592.14 690.65,591.99 690.90,592.54 691.15,592.06 691.40,591.98 691.65,591.33 691.90,591.18 692.15,592.55 692.40,592.85 692.65,592.43 692.90,592.68 693.15,591.58 693.40,591.79 693.65,591.97 693.90,591.63 694.15,592.56 694.40,590.89 694.65,591.23 694.90,591.28 695.15,591.02 695.40,591.78 695.65,590.18 695.90,591.77 696.15,591.55 696.40,591.15 696.65,591.62 696.90,592.01 697.15,590.75 697.40,590.91 697.65,590.60 697.90,590.52 698.15,589.83 698.40,589.54 698.65,590.03 698.90,589.24 699.15,589.74 699.40,589.39 699.65,588.46 699.90,588.51 700.15,587.96 700.40,587.38 700.65,587.45 700.90,586.29 701.15,585.65 701.40,583.81 701.65,583.98 701.90,581.96 702.15,581.12 702.40,580.45 702.65,578.81 702.90,576.08 703.15,573.68 703.40,571.88 703.65,569.06 703.90,566.45 704.15,563.04 704.40,560.33 704.65,556.96 704.90,553.03 705.15,549.55 705.40,545.98 705.65,542.70 705.90,539.02 706.15,536.34 706.40,533.72 706.65,531.64 706.90,530.51 707.15,529.54 707.40,529.80 707.65,530.83 707.90,532.67 708.15,534.77 708.40,537.42 708.65,540.67 708.90,543.84 709.15,547.23 709.40,550.73 709.65,554.20 709.90,557.85 710.15,560.33 710.40,563.50 710.65,566.07 710.90,568.45 711.15,571.13 711.40,572.79 711.65,574.36 711.90,575.28 712.15,576.16 712.40,577.34 712.65,577.61 712.90,577.73 713.15,578.18 713.40,577.18 713.65,576.85 713.90,576.66 714.15,575.38 714.40,574.45 714.65,572.57 714.90,571.53 715.15,569.41 715.40,568.17 715.65,566.10 715.90,564.08 716.15,562.39 716.40,560.31 716.65,558.48 716.90,557.41 717.15,556.14 717.40,555.58 717.65,555.20 717.90,555.58 718.15,556.01 718.40,557.07 718.65,558.53 718.90,560.69 719.15,562.12 719.40,564.24 719.65,566.47 719.90,569.08 720.15,571.29 720.40,572.95 720.65,575.46 720.90,577.14 721.15,579.19 721.40,580.66 721.65,581.40 721.90,583.05 722.15,584.02 722.40,585.31 722.65,586.07 722.90,586.75 723.15,587.75 723.40,588.01 723.65,588.84 723.90,588.92 724.15,589.19 724.40,590.06 724.65,590.35 724.90,590.75 725.15,590.64 725.40,590.39 725.65,590.76 725.90,590.89 726.15,590.01 726.40,590.47 726.65,591.98 726.90,591.24 727.15,589.85 727.40,591.39 727.65,591.62 727.90,590.95 728.15,592.89 728.40,592.34 728.65,592.24 728.90,591.76 729.15,592.17 729.40,592.42 729.65,592.27 729.90,591.70 730.15,592.21 730.40,592.22 730.65,592.35 730.90,591.66 731.15,592.40 731.40,592.30 731.65,592.45 731.90,592.47 732.15,591.60 732.40,592.88 732.65,592.85 732.90,591.74 733.15,592.44 733.40,592.05 733.65,592.29 733.90,593.10 734.15,592.86 734.40,593.67 734.65,592.66 734.90,592.02 735.15,592.71 735.40,591.33 735.65,593.65 735.90,592.83 736.15,592.94 736.40,592.80 736.65,592.26 736.90,592.67 737.15,592.32 737.40,592.48 737.65,592.94 737.90,592.11 738.15,593.68 738.40,592.20 738.65,593.25 738.90,592.45 739.15,592.12 739.40,593.02 739.65,592.90 739.90,592.69 740.15,592.78 740.40,592.47 740.65,593.05 740.90,592.55 741.15,592.82 741.40,593.42 741.65,592.08 741.90,592.48 742.15,592.42 742.40,592.34 742.65,592.03 742.90,592.60 743.15,592.81 743.40,592.64 743.65,591.80 743.90,593.01 744.15,592.98 744.40,592.59 744.65,591.95 744.90,591.96 745.15,593.41 745.40,593.21 745.65,592.45 745.90,591.60 746.15,592.67 746.40,591.97 746.65,592.65 746.90,591.32 747.15,591.75 747.40,591.25 747.65,591.63 747.90,590.77 748.15,591.47 748.40,590.67 748.65,590.31 748.90,591.00 749.15,590.78 749.40,589.53 749.65,590.62 749.90,590.73 750.15,590.83 750.40,591.90 750.65,590.59 750.90,591.04 751.15,590.28 751.40,590.54 751.65,591.15 751.90,591.53 752.15,591.63 752.40,592.21 752.65,592.39 752.90,592.66 753.15,592.14 753.40,592.59 753.65,592.03 753.90,592.70 754.15,592.85 754.40,592.38 754.65,590.95 754.90,592.41 755.15,594.23 755.40,592.80 755.65,592.54 755.90,592.98 756.15,593.57 756.40,593.16 756.65,592.88 756.90,592.31 757.15,592.87 757.40,592.39 757.65,593.26 757.90,593.90 758.15,593.66 758.40,592.77 758.65,592.56 758.90,592.34 759.15,593.36 759.40,593.44 759.65,593.57 759.90,593.32 760.15,592.47 760.40,592.08 760.65,593.77 760.90,592.69 761.15,594.21 761.40,592.00 761.65,592.56 761.90,592.65 762.15,593.32 762.40,593.54 762.65,592.87 762.90,593.51 763.15,592.47 763.40,592.91 763.65,592.52 763.90,592.89 764.15,592.84 764.40,593.37 764.65,595.11 764.90,592.44 765.15,593.09 765.40,593.59 765.65,593.25 765.90,594.00 766.15,592.65 766.40,593.64 766.65,592.78 766.90,593.67 767.15,593.31 767.40,593.36 767.65,592.90 767.90,592.20 768.15,592.61 768.40,593.62 768.65,593.08 768.90,593.64 769.15,592.50 769.40,593.59 769.65,593.79 769.90,592.01 770.15,593.41 770.40,594.31 770.65,592.82 770.90,593.79 771.15,593.26 771.40,593.71 771.65,593.03 771.90,592.81 772.15,593.01 772.40,593.04 772.65,592.92 772.90,592.76 773.15,593.86 773.40,592.92 773.65,592.58 773.90,592.73 774.15,593.52 774.40,592.01 774.65,593.52 774.90,593.64 775.15,593.96 775.40,593.00 775.65,592.79 775.90,593.34 776.15,593.33 776.40,593.98 776.65,593.28 776.90,593.01 777.15,592.51 777.40,593.13 777.65,593.29 777.90,593.90 778.15,593.30 778.40,593.99 778.65,593.93 778.90,592.82 779.15,592.61 779.40,592.89 779.65,593.11 779.90,592.79 780.15,593.63 780.40,593.61 780.65,593.91 780.90,593.39 781.15,592.99 781.40,593.46 781.65,592.72 781.90,593.31 782.15,592.80 782.40,593.86 782.65,591.74 782.90,593.69 783.15,593.71 783.40,593.19 783.65,593.40 783.90,593.32 784.15,593.92 784.40,594.12 784.65,593.20 784.90,594.10 785.15,592.83 785.40,593.42 785.65,593.43 785.90,592.48 786.15,593.36 786.40,592.80 786.65,593.60 786.90,592.67 787.15,592.17 787.40,592.43 787.65,593.15 787.90,593.31 788.15,593.32 788.40,592.70 788.65,593.55 788.90,592.80 789.15,592.97 789.40,593.63 789.65,592.99 789.90,592.03 790.15,593.45 790.40,593.04 790.65,592.82 790.90,593.73 791.15,592.65 791.40,593.35 791.65,593.04 791.90,594.38 792.15,591.94 792.40,593.01 792.65,593.07 792.90,593.46 793.15,592.59 793.40,592.44 793.65,593.51 793.90,592.47 794.15,592.81 794.40,592.58 794.65,592.76 794.90,591.75 795.15,592.11 795.40,592.30 795.65,592.30 795.90,592.73 796.15,592.30 796.40,592.21 796.65,591.74 796.90,592.30 797.15,591.14 797.40,591.24 797.65,590.31 797.90,590.34 798.15,591.13 798.40,590.43 798.65,589.24 798.90,589.93 799.15,589.56 799.40,588.82 799.65,589.28 799.90,588.68 800.15,588.52 800.40,588.69 800.65,587.61 800.90,588.16 801.15,587.21 801.40,586.95 801.65,587.45 801.90,586.79 802.15,586.23 802.40,586.22 802.65,586.27 802.90,585.41 803.15,586.41 803.40,586.12 803.65,585.59 803.90,585.88 804.15,586.91 804.40,586.09 804.65,587.97 804.90,586.66 805.15,587.56 805.40,586.48 805.65,588.00 805.90,588.08 806.15,588.88 806.40,589.04 806.65,589.06 806.90,590.62 807.15,590.19 807.40,589.67 807.65,590.49 807.90,589.03 808.15,590.46 808.40,591.63 808.65,590.88 808.90,591.43 809.15,590.90 809.40,592.10 809.65,591.88 809.90,591.95 810.15,592.57 810.40,593.06 810.65,592.70 810.90,591.41 811.15,592.65 811.40,592.64 811.65,591.94 811.90,591.73 812.15,592.44 812.40,592.55 812.65,592.72 812.90,592.39 813.15,592.91 813.40,593.01 813.65,592.72 813.90,593.11 814.15,592.60 814.40,592.07 814.65,592.96 814.90,593.46 815.15,594.48 815.40,591.83 815.65,592.74 815.90,592.55 816.15,593.19 816.40,592.57 816.65,593.14 816.90,593.62 817.15,592.67 817.40,593.05 817.65,594.00 817.90,593.60 818.15,592.22 818.40,594.28 818.65,592.76 818.90,593.31 819.15,592.92 819.40,592.90 819.65,592.77 819.90,593.51 820.15,592.74 820.40,592.48 820.65,592.86 820.90,593.18 821.15,592.08 821.40,593.63 821.65,592.80 821.90,593.60 822.15,593.97 822.40,593.38 822.65,593.51 822.90,592.96 823.15,592.84 823.40,592.17 823.65,593.11 823.90,592.92 824.15,591.91 824.40,593.38 824.65,594.07 824.90,593.45 825.15,593.88 825.40,593.09 825.65,592.67 825.90,593.27 826.15,593.05 826.40,592.61 826.65,593.81 826.90,593.34 827.15,592.88 827.40,593.35 827.65,593.16 827.90,593.59 828.15,594.13 828.40,592.90 828.65,592.58 828.90,594.01 829.15,594.57 829.40,592.91 829.65,592.74 829.90,592.58 830.15,593.24 830.40,593.30 830.65,593.10 830.90,593.71 831.15,592.79 831.40,592.91 831.65,592.54 831.90,594.00 832.15,593.83 832.40,593.96 832.65,592.76 832.90,593.97 833.15,593.38 833.40,593.62 833.65,593.54 833.90,593.04 834.15,593.12 834.40,592.35 834.65,592.90 834.90,593.07 835.15,592.55 835.40,593.24 835.65,593.89 835.90,592.90 836.15,592.63 836.40,592.69 836.65,593.25 836.90,594.11 837.15,593.22 837.40,593.15 837.65,592.42 837.90,593.27 838.15,593.42 838.40,592.83 838.65,593.02 838.90,592.64 839.15,593.39 839.40,593.69 839.65,593.13 839.90,593.16 840.15,592.87 840.40,592.44 840.65,592.32 840.90,592.46 841.15,592.69 841.40,592.55 841.65,593.03 841.90,592.80 842.15,593.11 842.40,592.63 842.65,591.97 842.90,592.04 843.15,591.00 843.40,592.64 843.65,591.29 843.90,591.24 844.15,592.28 844.40,590.59 844.65,590.67 844.90,590.80 845.15,590.37 845.40,590.56 845.65,590.47 845.90,590.52" fill="none" stroke="url(#d75)" stroke-width="6.0" stroke-linejoin="round" stroke-linecap="butt"/>
<g fill="#000">
<rect x="83.4" y="31" width="4.4" height="773"/>
<rect x="844.8" y="31" width="4.4" height="773"/>
<rect x="83" y="30.9" width="766" height="3"/>
<rect x="83" y="787.9" width="766" height="3"/>
<rect x="210.1" y="789" width="4" height="14.5"/>
<rect x="337.3" y="789" width="4" height="14.5"/>
<rect x="464.2" y="789" width="4" height="14.5"/>
<rect x="591.1" y="789" width="4" height="14.5"/>
<rect x="717.9" y="789" width="4" height="14.5"/>
</g>
<text x="85.2" y="842.2" font-size="35.5" text-anchor="middle">20</text>
<text x="211.9" y="842.2" font-size="35.5" text-anchor="middle">30</text>
<text x="339.1" y="842.2" font-size="35.5" text-anchor="middle">40</text>
<text x="466.0" y="842.2" font-size="35.5" text-anchor="middle">50</text>
<text x="592.9" y="842.2" font-size="35.5" text-anchor="middle">60</text>
<text x="719.7" y="842.2" font-size="35.5" text-anchor="middle">70</text>
<text x="846.8" y="842.2" font-size="35.5" text-anchor="middle">80</text>
<text x="466.3" y="896" font-size="39.2" text-anchor="middle">2 Theta / degree</text>
<text class="cjk" transform="translate(61.8,468.8) rotate(-90)" font-size="38" letter-spacing="2">强度</text>
<text transform="translate(61.8,389.1) rotate(-90)" font-size="40">/<tspan dx="-2"> a.u.</tspan></text>
<text x="835" y="76.2" font-size="33.6" text-anchor="end">Pt-TiO<tspan font-size="22" dy="9.6">2</tspan><tspan dy="-9.6">(R)-H</tspan></text>
<text x="837.7" y="647.3" font-size="25.4" text-anchor="end">PDF#21-1276-Rutile</text>
<text x="826.8" y="762.1" font-size="25.4" text-anchor="end">PDF#04-0802-Pt</text>
<text class="sym" transform="translate(191.3,151) rotate(-90)" font-size="30">♣</text>
<text transform="translate(191.3,128.3) rotate(-90)" font-size="32.5">(110)</text>
<text class="sym" transform="translate(299.8,361) rotate(-90)" font-size="30">♣</text>
<text transform="translate(299.8,338.3) rotate(-90)" font-size="32.5">(101)</text>
</svg>
</body>
</html>
